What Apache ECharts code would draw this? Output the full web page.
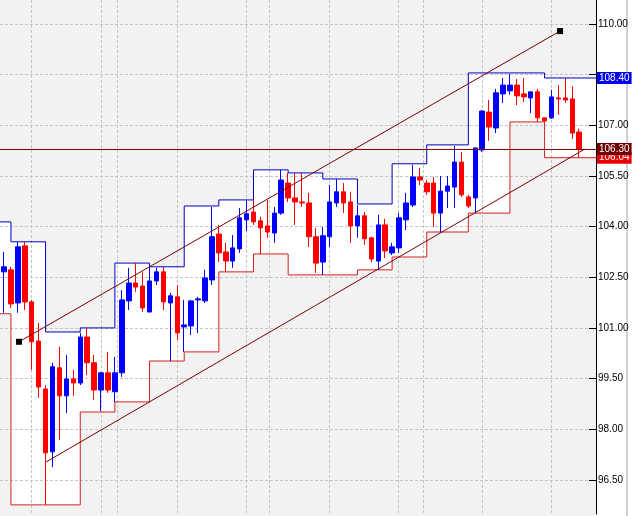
<!DOCTYPE html>
<html><head><meta charset="utf-8">
<script src="https://cdn.jsdelivr.net/npm/echarts@6/dist/echarts.min.js"></script>
<style>html,body{margin:0;padding:0;background:#fff}#c{width:640px;height:516px}</style>
</head><body><div id="c"></div>
<script>
// ---- candles (bar index = position in arrays) ----
const opens  = [103.99,102.66,102.72,101.74,103.43,101.77,100.61,99.19,97.33,99.82,98.99,99.49,99.37,100.73,99.97,99.16,99.67,99.11,99.67,101.80,102.33,102.24,101.47,102.39,102.66,101.74,101.92,101.03,101.06,101.83,101.80,102.42,103.78,103.25,102.98,103.34,104.20,104.43,104.17,104.02,103.81,104.40,105.29,104.85,104.73,104.70,103.70,102.95,103.70,104.70,105.03,104.73,104.02,104.32,103.67,102.98,104.05,103.22,103.37,104.20,104.64,105.47,105.29,105.29,104.40,105.05,105.17,105.91,104.88,104.85,106.27,107.39,106.92,107.93,108.02,108.19,107.93,107.81,107.99,107.22,107.22,107.81,107.81,107.78,106.80];
const closes = [101.83,102.81,101.71,103.40,101.77,100.59,99.25,97.30,99.85,98.99,99.49,99.37,100.73,99.97,99.16,99.67,99.16,99.67,101.83,102.33,102.21,101.59,102.39,102.66,101.77,101.95,100.85,101.09,101.80,101.86,102.48,103.70,103.22,102.98,103.37,104.26,104.38,104.14,103.96,103.84,104.40,105.38,104.85,104.73,104.70,103.70,102.92,103.73,104.73,105.03,104.70,104.02,104.32,103.64,103.04,104.05,103.28,103.40,104.26,104.70,105.47,105.38,105.03,104.40,105.05,105.20,105.91,104.94,104.61,106.33,107.42,106.95,107.96,108.19,108.19,107.87,107.84,107.99,107.22,107.13,107.84,107.78,107.75,106.77,106.30];
const lows   = [101.74,101.45,101.59,101.45,101.53,99.76,98.93,95.76,96.88,97.68,98.48,98.99,99.31,99.61,98.87,98.54,99.08,98.81,99.55,101.53,102.07,101.47,101.47,102.27,101.53,100.02,100.64,100.29,100.79,100.85,101.74,102.27,102.95,102.66,102.78,103.22,103.87,104.05,103.19,103.67,103.52,104.35,104.73,104.05,104.58,103.40,102.63,102.57,103.40,104.58,104.40,103.52,103.67,103.46,102.95,102.72,103.07,103.16,103.22,103.90,104.58,105.23,104.94,103.99,103.84,104.55,104.55,104.88,104.55,104.40,106.21,106.54,106.77,107.66,107.90,107.60,107.69,107.36,107.10,107.10,107.19,107.31,107.66,106.60,106.04];
const highs  = [104.14,103.25,102.81,103.55,103.55,101.83,101.15,99.31,99.97,100.44,100.20,99.76,100.85,101.00,100.20,99.70,100.29,100.14,102.12,102.78,102.92,102.66,102.81,102.78,102.81,102.04,102.27,101.83,101.83,101.92,102.72,104.58,104.05,103.52,103.75,104.55,104.79,104.79,104.29,104.79,104.58,105.68,105.59,105.59,105.59,105.00,103.96,103.99,105.23,105.41,105.29,105.03,104.64,104.43,103.70,104.35,104.23,103.52,104.40,105.00,105.83,105.74,105.38,105.47,105.50,105.50,106.39,106.21,104.94,106.33,107.45,107.75,108.08,108.40,108.52,108.37,108.40,107.99,108.08,107.22,108.05,108.19,108.40,108.16,106.90];

// ---- price channel (block start bar, upper, lower) ----
const channelStarts = [0,2,7,12,17,22,27,32,37,42,47,52,57,62,68,74,79];
const channelUpper  = [104.14,103.55,100.88,101.00,102.92,102.81,104.61,104.79,105.68,105.59,105.41,104.67,105.86,106.42,108.55,108.55,108.40];
const channelLower  = [101.42,95.76,95.76,98.51,98.81,100.02,100.29,102.66,103.19,102.57,102.57,102.72,103.10,103.84,104.40,107.10,106.04];
const channelEnd = 87;

// ---- trend channel lines [bar, price] ----
const trendUpper = [[3.16,100.59],[81.23,109.79]];
const trendLower = [[7.06,97.03],[84.84,106.30]];

// ---- axis ticks ----
const yTicks  = [96.5,98,99.5,101,102.5,104,105.5,107,108.5,110];
const yLabels = [96.5,98,99.5,101,102.5,104,105.5,107,110];
const xGrid   = [5,15.1,17.3,26,35.9,39.2,47.9,57.9,61.5,70,79.9];

const FONT = '"Liberation Sans Narrow","Arial Narrow","Liberation Sans",Arial,sans-serif';
const BG = '#f2f2f2';

const candles = opens.map((o,i)=>[i,o,closes[i],lows[i],highs[i]]);
function stepPts(levels){
  const p = channelStarts.map((s,k)=>[s,levels[k]]);
  p.push([channelEnd, levels[levels.length-1]]);
  return p;
}
const upPts = stepPts(channelUpper);
const loPts = stepPts(channelLower);
const lastUp = channelUpper[channelUpper.length-1];
const lastLo = channelLower[channelLower.length-1];
const lastClose = closes[closes.length-1];

function boxLabel(bg){
  return {show:true, position:'end', distance:1, formatter:p=>Number(p.value).toFixed(2),
    color:'#fff', backgroundColor:bg, padding:[1,2,1,2], fontSize:10, lineHeight:10,
    fontFamily:FONT, opacity:1};
}

const chart = echarts.init(document.getElementById('c'), null, {renderer:'canvas'});
chart.setOption({
  animation:false,
  backgroundColor:BG,
  graphic:[
    {type:'rect', left:596, top:0, shape:{width:44, height:516}, style:{fill:'#ffffff'}, z:-10, silent:true},
    {type:'rect', left:626, top:0, shape:{width:2, height:516}, style:{fill:'#d0d0d0'}, z:-9, silent:true}
  ],
  grid:{left:0, right:44, top:0, bottom:2, containLabel:false},
  xAxis:{type:'value', min:0.42, max:86.42,
    axisLine:{show:false}, axisLabel:{show:false},
    axisTick:{show:false, customValues:xGrid},
    splitLine:{show:true, lineStyle:{color:'#c4c4c4', width:1, type:[3,2]}}},
  yAxis:{type:'value', position:'right', min:95.49, max:110.71, scale:true,
    axisLine:{show:true, lineStyle:{color:'#000', width:1}},
    axisTick:{show:true, inside:true, length:7, customValues:yTicks, lineStyle:{color:'#000'}},
    axisLabel:{customValues:yLabels, formatter:v=>Number(v).toFixed(2), color:'#000', fontSize:10, fontFamily:FONT, margin:2},
    splitLine:{show:true, lineStyle:{color:'#c4c4c4', width:1, type:[3,2]}}},
  series:[
    {type:'line', step:'end', data:upPts, symbol:'none', silent:true, z:-2,
      lineStyle:{width:0, opacity:0}, areaStyle:{color:'#ffffff', opacity:1, origin:'start'}},
    {type:'line', step:'end', data:loPts, symbol:'none', silent:true, z:-1,
      lineStyle:{width:0, opacity:0}, areaStyle:{color:BG, opacity:1, origin:'start'}},
    {type:'line', step:'end', data:upPts, symbol:'none', silent:true, z:2,
      lineStyle:{color:'#0000c0', width:1},
      markLine:{silent:true, symbol:'none', lineStyle:{color:'rgba(0,0,0,0)', width:1},
        label:boxLabel('#0000f0'), data:[{yAxis:lastUp}]}},
    {type:'line', step:'end', data:loPts, symbol:'none', silent:true, z:2,
      lineStyle:{color:'#d42020', width:1},
      markLine:{silent:true, symbol:'none', lineStyle:{color:'rgba(0,0,0,0)', width:1},
        label:boxLabel('#e80000'), data:[{yAxis:lastLo}]}},
    {type:'candlestick', data:candles, barWidth:5, z:3,
      itemStyle:{color:'#0000ff', color0:'#ff0000', borderColor:'#0000ff', borderColor0:'#ff0000', borderWidth:1},
      markLine:{silent:true, symbol:'none', lineStyle:{color:'#800000', width:1, type:'solid'},
        label:boxLabel('#700000'), data:[{yAxis:lastClose}]}},
    {type:'line', data:trendUpper, symbol:'rect', symbolSize:6, showSymbol:true, silent:true, z:4,
      itemStyle:{color:'#000'}, lineStyle:{color:'#7a0000', width:1}},
    {type:'line', data:trendLower, symbol:'none', silent:true, z:4,
      lineStyle:{color:'#7a0000', width:1}}
  ]
});
</script></body></html>
